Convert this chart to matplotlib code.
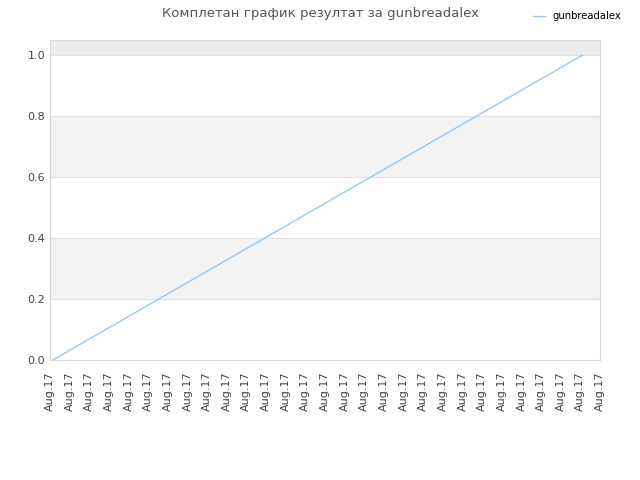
import matplotlib
matplotlib.use("Agg")
import matplotlib.pyplot as plt

# data: progress of the player, x in tick units (one tick per interval)
x_vals = [0.15, 27.1]
y_vals = [0.0, 1.0]
tick_pos = list(range(29))
tick_labels = ["Aug.17"] * 29
bands = [(0.2, 0.4, "#f2f2f2"), (0.6, 0.8, "#f2f2f2"), (1.0, 1.05, "#ebebeb")]

fig = plt.figure(figsize=(6.4, 4.8), dpi=100)
ax = fig.add_axes([0.078, 0.25, 0.8595, 0.6667])

for lo, hi, c in bands:
    ax.axhspan(lo, hi, color=c, lw=0, zorder=0)
for yv in [0.2, 0.4, 0.6, 0.8, 1.0]:
    ax.axhline(yv, color="#e2e2e2", lw=0.8, zorder=1)

ax.plot(x_vals, y_vals, color="#99c9f5", lw=1, label="gunbreadalex", zorder=3)

ax.set_xlim(0, 28)
ax.set_ylim(0, 1.05)
ax.set_yticks([0.0, 0.2, 0.4, 0.6, 0.8, 1.0])
ax.set_xticks(tick_pos)
ax.set_xticklabels(tick_labels, rotation=90)
ax.tick_params(axis="both", length=0, labelsize=8, labelcolor="#444444")
ax.tick_params(axis="x", pad=8)
for s in ax.spines.values():
    s.set_color("#d8d8d8")

fig.suptitle("Комплетан график резултат за gunbreadalex", x=0.5, y=0.985,
             fontsize=9.5, color="#555555")
fig.legend(loc="upper right", bbox_to_anchor=(0.985, 0.995), frameon=False,
           fontsize=7.2, handlelength=1.2)

fig.savefig("out.png", dpi=100)
